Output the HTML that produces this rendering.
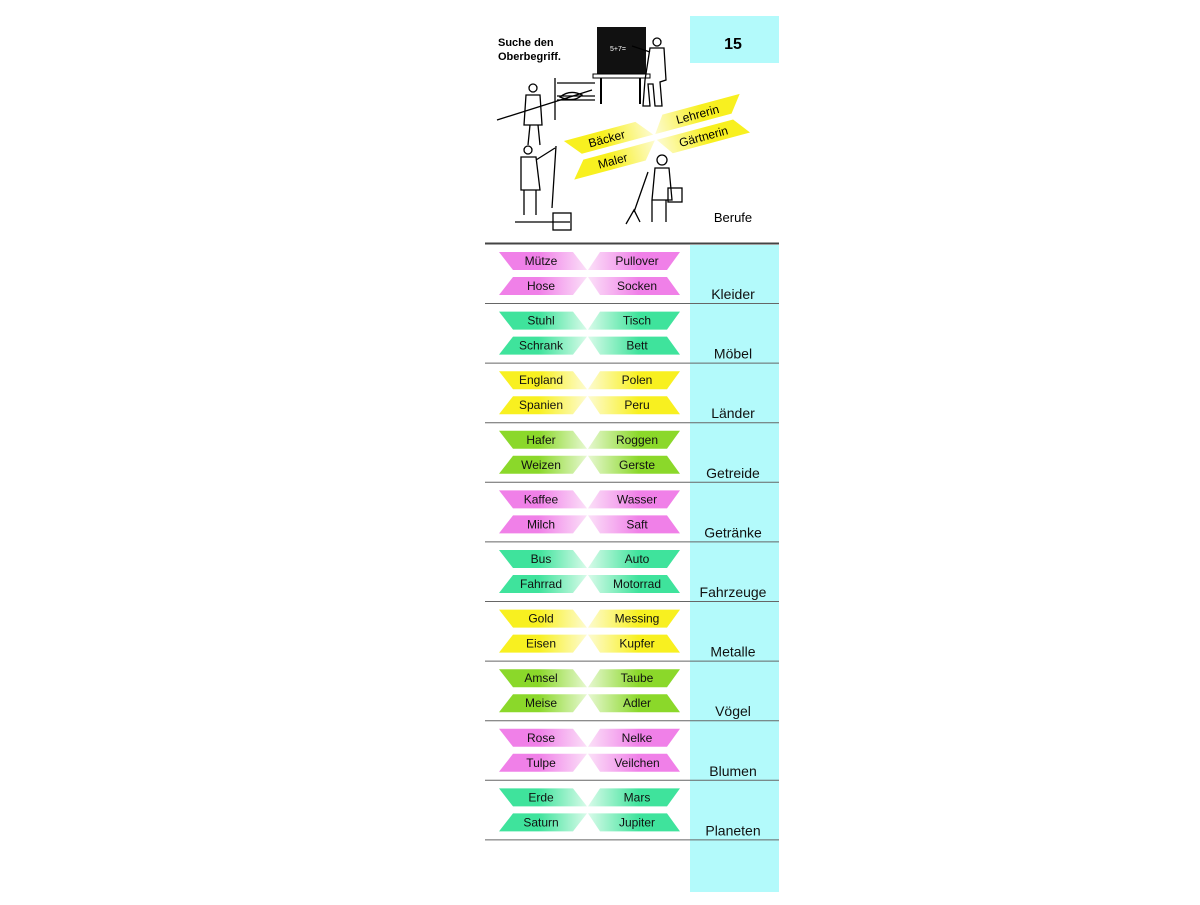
<!DOCTYPE html>
<html><head><meta charset="utf-8"><style>
body{margin:0;background:#fff}
svg text{font-family:"Liberation Sans",sans-serif;}
</style></head><body>
<svg width="1200" height="900" viewBox="0 0 1200 900" xmlns="http://www.w3.org/2000/svg">
<defs>
<linearGradient id="pL" x1="0" x2="1"><stop offset="0.45" stop-color="#f080e8"/><stop offset="1" stop-color="#fbe0f8"/></linearGradient>
<linearGradient id="pR" x1="1" x2="0"><stop offset="0.45" stop-color="#f080e8"/><stop offset="1" stop-color="#fbe0f8"/></linearGradient>
<linearGradient id="gL" x1="0" x2="1"><stop offset="0.45" stop-color="#3fe39c"/><stop offset="1" stop-color="#d8fbe9"/></linearGradient>
<linearGradient id="gR" x1="1" x2="0"><stop offset="0.45" stop-color="#3fe39c"/><stop offset="1" stop-color="#d8fbe9"/></linearGradient>
<linearGradient id="yL" x1="0" x2="1"><stop offset="0.45" stop-color="#f8f020"/><stop offset="1" stop-color="#fdfbd0"/></linearGradient>
<linearGradient id="yR" x1="1" x2="0"><stop offset="0.45" stop-color="#f8f020"/><stop offset="1" stop-color="#fdfbd0"/></linearGradient>
<linearGradient id="lL" x1="0" x2="1"><stop offset="0.45" stop-color="#8bd82a"/><stop offset="1" stop-color="#e6f8d0"/></linearGradient>
<linearGradient id="lR" x1="1" x2="0"><stop offset="0.45" stop-color="#8bd82a"/><stop offset="1" stop-color="#e6f8d0"/></linearGradient>
</defs>
<rect x="690" y="16" width="89" height="47" fill="#b3fafb"/>
<rect x="690" y="245" width="89" height="647" fill="#b3fafb"/>
<text x="733" y="49" font-size="16" font-weight="bold" text-anchor="middle">15</text>
<text x="498" y="46" font-size="11" font-weight="bold">Suche den</text>
<text x="498" y="60" font-size="11" font-weight="bold">Oberbegriff.</text>
<rect x="597" y="27" width="49" height="48" fill="#111"/>
<text x="610" y="51" font-size="7" fill="#fff">5+7=</text>
<rect x="593" y="74" width="57" height="4" fill="#fff" stroke="#000"/>
<line x1="601" y1="78" x2="601" y2="104" stroke="#000" stroke-width="2"/>
<line x1="640" y1="78" x2="640" y2="104" stroke="#000" stroke-width="2"/>
<g fill="none" stroke="#000" stroke-width="1.3">
<circle cx="657" cy="42" r="4"/><path d="M650 48 L664 48 L666 80 L660 82 L662 106 L655 106 L653 84 L648 84 L650 106 L643 106 L645 80 Z"/>
<path d="M650 52 L632 46"/>
<path d="M555 78 L555 120 M557 83 L595 83 M557 96 L595 96 M557 100 L595 100"/>
<circle cx="533" cy="88" r="4"/><path d="M526 95 L540 95 L542 125 L524 125 Z M497 120 L592 90 M530 125 L528 145 M538 125 L540 145"/>
<path d="M560 97 q10 -8 22 -2 q-8 8 -22 2z"/>
<circle cx="528" cy="150" r="4"/><path d="M521 157 L536 157 L540 190 L521 190 Z M536 160 L555 148 M524 190 L524 215 M536 190 L536 215 M515 222 L570 222 M556 146 L552 208"/>
<rect x="553" y="213" width="18" height="17"/>
<circle cx="662" cy="160" r="5"/><path d="M655 168 L669 168 L672 200 L652 200 Z M652 200 L652 222 M666 200 L666 222 M648 172 L634 212 M626 224 L634 210 L640 222"/>
<rect x="668" y="188" width="14" height="14"/>
</g>
<g transform="rotate(-15 656 137)">
<polygon points="566,117 640,117 654,134 580,134" fill="url(#yL)"/>
<polygon points="668,117 748,117 735,134 656,134" fill="url(#yR)"/>
<polygon points="580,140 654,140 640,157 566,157" fill="url(#yL)"/>
<polygon points="656,140 735,140 748,157 668,157" fill="url(#yR)"/>
<text x="608" y="130" font-size="12" text-anchor="middle">Bäcker</text>
<text x="702" y="130" font-size="12" text-anchor="middle">Lehrerin</text>
<text x="608" y="153" font-size="12" text-anchor="middle">Maler</text>
<text x="702" y="153" font-size="12" text-anchor="middle">Gärtnerin</text>
</g>
<text x="733" y="222" font-size="13" text-anchor="middle">Berufe</text>
<line x1="485" y1="243.5" x2="779" y2="243.5" stroke="#444" stroke-width="2"/>

<g font-size="12" text-anchor="middle" fill="#111">
<g transform="translate(0,0)"><polygon points="499,252 573,252 587,270 513,270" fill="url(#pL)"/><polygon points="600,252 680,252 667,270 588,270" fill="url(#pR)"/><polygon points="513,277 587,277 573,295 499,295" fill="url(#pL)"/><polygon points="588,277 667,277 680,295 600,295" fill="url(#pR)"/><text x="541" y="265">Mütze</text><text x="637" y="265">Pullover</text><text x="541" y="290">Hose</text><text x="637" y="290">Socken</text><text x="733" y="299" font-size="14">Kleider</text><line x1="485" y1="303.5" x2="779" y2="303.5" stroke="#666"/></g>
<g transform="translate(0,59.6)"><polygon points="499,252 573,252 587,270 513,270" fill="url(#gL)"/><polygon points="600,252 680,252 667,270 588,270" fill="url(#gR)"/><polygon points="513,277 587,277 573,295 499,295" fill="url(#gL)"/><polygon points="588,277 667,277 680,295 600,295" fill="url(#gR)"/><text x="541" y="265">Stuhl</text><text x="637" y="265">Tisch</text><text x="541" y="290">Schrank</text><text x="637" y="290">Bett</text><text x="733" y="299" font-size="14">Möbel</text><line x1="485" y1="303.5" x2="779" y2="303.5" stroke="#666"/></g>
<g transform="translate(0,119.2)"><polygon points="499,252 573,252 587,270 513,270" fill="url(#yL)"/><polygon points="600,252 680,252 667,270 588,270" fill="url(#yR)"/><polygon points="513,277 587,277 573,295 499,295" fill="url(#yL)"/><polygon points="588,277 667,277 680,295 600,295" fill="url(#yR)"/><text x="541" y="265">England</text><text x="637" y="265">Polen</text><text x="541" y="290">Spanien</text><text x="637" y="290">Peru</text><text x="733" y="299" font-size="14">Länder</text><line x1="485" y1="303.5" x2="779" y2="303.5" stroke="#666"/></g>
<g transform="translate(0,178.8)"><polygon points="499,252 573,252 587,270 513,270" fill="url(#lL)"/><polygon points="600,252 680,252 667,270 588,270" fill="url(#lR)"/><polygon points="513,277 587,277 573,295 499,295" fill="url(#lL)"/><polygon points="588,277 667,277 680,295 600,295" fill="url(#lR)"/><text x="541" y="265">Hafer</text><text x="637" y="265">Roggen</text><text x="541" y="290">Weizen</text><text x="637" y="290">Gerste</text><text x="733" y="299" font-size="14">Getreide</text><line x1="485" y1="303.5" x2="779" y2="303.5" stroke="#666"/></g>
<g transform="translate(0,238.4)"><polygon points="499,252 573,252 587,270 513,270" fill="url(#pL)"/><polygon points="600,252 680,252 667,270 588,270" fill="url(#pR)"/><polygon points="513,277 587,277 573,295 499,295" fill="url(#pL)"/><polygon points="588,277 667,277 680,295 600,295" fill="url(#pR)"/><text x="541" y="265">Kaffee</text><text x="637" y="265">Wasser</text><text x="541" y="290">Milch</text><text x="637" y="290">Saft</text><text x="733" y="299" font-size="14">Getränke</text><line x1="485" y1="303.5" x2="779" y2="303.5" stroke="#666"/></g>
<g transform="translate(0,298)"><polygon points="499,252 573,252 587,270 513,270" fill="url(#gL)"/><polygon points="600,252 680,252 667,270 588,270" fill="url(#gR)"/><polygon points="513,277 587,277 573,295 499,295" fill="url(#gL)"/><polygon points="588,277 667,277 680,295 600,295" fill="url(#gR)"/><text x="541" y="265">Bus</text><text x="637" y="265">Auto</text><text x="541" y="290">Fahrrad</text><text x="637" y="290">Motorrad</text><text x="733" y="299" font-size="14">Fahrzeuge</text><line x1="485" y1="303.5" x2="779" y2="303.5" stroke="#666"/></g>
<g transform="translate(0,357.6)"><polygon points="499,252 573,252 587,270 513,270" fill="url(#yL)"/><polygon points="600,252 680,252 667,270 588,270" fill="url(#yR)"/><polygon points="513,277 587,277 573,295 499,295" fill="url(#yL)"/><polygon points="588,277 667,277 680,295 600,295" fill="url(#yR)"/><text x="541" y="265">Gold</text><text x="637" y="265">Messing</text><text x="541" y="290">Eisen</text><text x="637" y="290">Kupfer</text><text x="733" y="299" font-size="14">Metalle</text><line x1="485" y1="303.5" x2="779" y2="303.5" stroke="#666"/></g>
<g transform="translate(0,417.2)"><polygon points="499,252 573,252 587,270 513,270" fill="url(#lL)"/><polygon points="600,252 680,252 667,270 588,270" fill="url(#lR)"/><polygon points="513,277 587,277 573,295 499,295" fill="url(#lL)"/><polygon points="588,277 667,277 680,295 600,295" fill="url(#lR)"/><text x="541" y="265">Amsel</text><text x="637" y="265">Taube</text><text x="541" y="290">Meise</text><text x="637" y="290">Adler</text><text x="733" y="299" font-size="14">Vögel</text><line x1="485" y1="303.5" x2="779" y2="303.5" stroke="#666"/></g>
<g transform="translate(0,476.8)"><polygon points="499,252 573,252 587,270 513,270" fill="url(#pL)"/><polygon points="600,252 680,252 667,270 588,270" fill="url(#pR)"/><polygon points="513,277 587,277 573,295 499,295" fill="url(#pL)"/><polygon points="588,277 667,277 680,295 600,295" fill="url(#pR)"/><text x="541" y="265">Rose</text><text x="637" y="265">Nelke</text><text x="541" y="290">Tulpe</text><text x="637" y="290">Veilchen</text><text x="733" y="299" font-size="14">Blumen</text><line x1="485" y1="303.5" x2="779" y2="303.5" stroke="#666"/></g>
<g transform="translate(0,536.4)"><polygon points="499,252 573,252 587,270 513,270" fill="url(#gL)"/><polygon points="600,252 680,252 667,270 588,270" fill="url(#gR)"/><polygon points="513,277 587,277 573,295 499,295" fill="url(#gL)"/><polygon points="588,277 667,277 680,295 600,295" fill="url(#gR)"/><text x="541" y="265">Erde</text><text x="637" y="265">Mars</text><text x="541" y="290">Saturn</text><text x="637" y="290">Jupiter</text><text x="733" y="299" font-size="14">Planeten</text><line x1="485" y1="303.5" x2="779" y2="303.5" stroke="#666"/></g>
</g>
</svg>
</body></html>
